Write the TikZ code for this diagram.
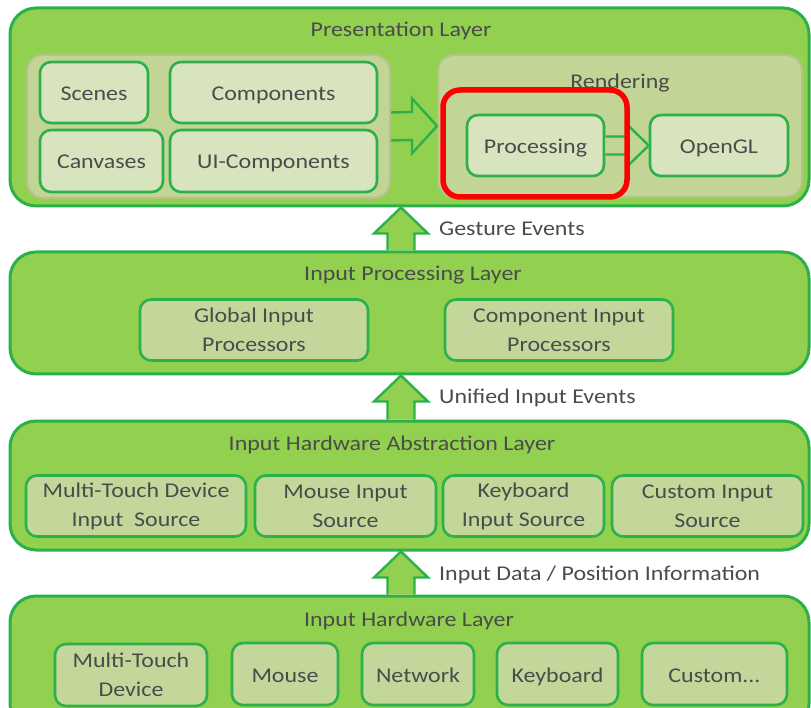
\documentclass[tikz,border=0pt]{standalone}
\usepackage{fontspec}
\setmainfont{Carlito}[FakeStretch=1.14]
\usetikzlibrary{calc}

\definecolor{layerfill}{RGB}{146,208,80}
\definecolor{edge}{RGB}{44,176,74}
\definecolor{boxfill}{RGB}{196,215,155}
\definecolor{lightbox}{RGB}{216,228,190}
\definecolor{groupfill}{RGB}{195,213,150}
\definecolor{groupedge}{RGB}{178,197,134}
\definecolor{txt}{RGB}{75,75,75}
\definecolor{mark}{RGB}{255,0,0}

\tikzset{
  layer/.style={draw=edge, line width=3pt, fill=layerfill, rounded corners=26pt, inner sep=0pt},
  group/.style={draw=groupedge, line width=2pt, fill=groupfill, rounded corners=16pt, inner sep=0pt},
  oneline/.style={text height=20pt, text depth=4pt},
  cell/.style={draw=edge, line width=2.6pt, fill=boxfill, rounded corners=11pt,
    align=center, inner sep=0pt},
  cell1/.style={cell, oneline},
  pcell/.style={cell1, fill=lightbox},
  title/.style={inner sep=0pt, oneline},
  note/.style={anchor=west, inner sep=0pt, oneline},
  bigflow/.style={draw=edge, line width=2.4pt, fill=layerfill, line join=miter},
  openflow/.style={draw=edge, line width=2.4pt, line join=miter},
  highlight/.style={draw=mark, line width=5.5pt, rounded corners=17pt, inner sep=0pt}
}

% block arrow pointing up from the top of #1 to the bottom of #2, centred on coordinate ax
\newcommand\upflow[2]{%
  \draw[bigflow] ($(#1.north -| ax)+(-13.5,0)$) -- ($(#2.south -| ax)+(-13.5,26)$)
    -- ($(#2.south -| ax)+(-27,26)$) -- (#2.south -| ax)
    -- ($(#2.south -| ax)+(27,26)$) -- ($(#2.south -| ax)+(13.5,26)$)
    -- ($(#1.north -| ax)+(13.5,0)$);
}

\begin{document}
\begin{tikzpicture}[x=1pt, y=-1pt, font=\fontsize{21}{29}\selectfont, text=txt]
\useasboundingbox (0,0) rectangle (811,708);
\clip (0,0) rectangle (811,708);

% layers
\node[layer, minimum width=799pt, minimum height=198pt] (pl)   at (409.5,107) {};
\node[layer, minimum width=799pt, minimum height=122pt] (ipl)  at (409.5,313) {};
\node[layer, minimum width=799pt, minimum height=129pt] (ihal) at (409.5,485.5) {};
\node[layer, minimum width=799pt, minimum height=134pt] (ihl)  at (409.5,663) {};

\node[title] (plt)   at (401,29)  {Presentation Layer};
\node[title] (iplt)  at (413,273) {Input Processing Layer};
\node[title] (ihalt) at (392,442) {Input Hardware Abstraction Layer};
\node[title] (ihlt)  at (409,618) {Input Hardware Layer};

% presentation layer content
\node[group, minimum width=363pt, minimum height=143pt] (lg) at (208.5,126.5) {};
\node[group, minimum width=364pt, minimum height=142pt] (rg) at (620,126) {};
\node[title] (rgt) at (620,81) {Rendering};

\node[pcell, minimum width=108pt, minimum height=61pt] (scenes) at (94,92.5) {Scenes};
\node[pcell, minimum width=207pt, minimum height=61pt] (comps)  at (273.5,92.5) {Components};
\node[pcell, minimum width=123pt, minimum height=62pt] (canv)   at (101.5,161) {Canvases};
\node[pcell, minimum width=207pt, minimum height=62pt] (uicomp) at (273.5,161) {UI-Components};

\node[pcell, minimum width=137pt, minimum height=61pt] (proc)   at (535.5,145.5) {Processing};
\node[pcell, minimum width=138pt, minimum height=61pt] (ogl)    at (719,145.5) {OpenGL};

% input processing layer content
\node[cell, minimum width=228pt, minimum height=61pt] (gip) at (254,330) {Global Input\\Processors};
\node[cell, minimum width=228pt, minimum height=61pt] (cip) at (559,330) {Component Input\\Processors};

% input hardware abstraction layer content
\node[cell, minimum width=220pt, minimum height=61pt] (mtsrc)  at (136,506)   {Multi-Touch Device\\Input~ Source};
\node[cell, minimum width=181pt, minimum height=61pt] (msrc)   at (345.5,506) {Mouse Input\\Source};
\node[cell, minimum width=161pt, minimum height=61pt] (ksrc)   at (523.5,506) {Keyboard\\Input Source};
\node[cell, minimum width=191pt, minimum height=61pt] (csrc)   at (707.5,506) {Custom Input\\Source};

% input hardware layer content
\node[cell, minimum width=152pt, minimum height=62pt] (mt)    at (131,675)   {Multi-Touch\\Device};
\node[cell1, minimum width=106pt, minimum height=62pt] (mouse) at (285,674)  {Mouse};
\node[cell1, minimum width=112pt, minimum height=62pt] (net)  at (418,674)   {Network};
\node[cell1, minimum width=121pt, minimum height=62pt] (kbd)  at (557.5,674) {Keyboard};
\node[cell1, minimum width=145pt, minimum height=62pt] (cust) at (714.5,674) {Custom...};

% flows between layers
\coordinate (ax) at (401,0);
\upflow{ipl}{pl}
\upflow{ihal}{ipl}
\upflow{ihl}{ihal}

\node[note] (ge)  at (439,228) {Gesture Events};
\node[note] (uie) at (439,395) {Unified Input Events};
\node[note] (idp) at (439,572) {Input Data / Position Information};

% open arrows inside the presentation layer
\draw[openflow, fill=layerfill] ($(lg.east)+(0,-14)$) -- ($(rg.west)+(-25,-14)$)
  -- ($(rg.west)+(-25,-27.5)$) -- (rg.west) -- ($(rg.west)+(-25,27.5)$)
  -- ($(rg.west)+(-25,14)$) -- ($(lg.east)+(0,14)$);
\draw[openflow, fill=groupfill] ($(proc.east)+(0,-9)$) -- ($(ogl.west)+(-20,-9)$)
  -- ($(ogl.west)+(-20,-19.5)$) -- (ogl.west) -- ($(ogl.west)+(-20,19.5)$)
  -- ($(ogl.west)+(-20,9)$) -- ($(proc.east)+(0,9)$);

% emphasis frame round the processing stage
\node[highlight, minimum width=184pt, minimum height=107pt] (hl) at (535,143.5) {};
\end{tikzpicture}
\end{document}
